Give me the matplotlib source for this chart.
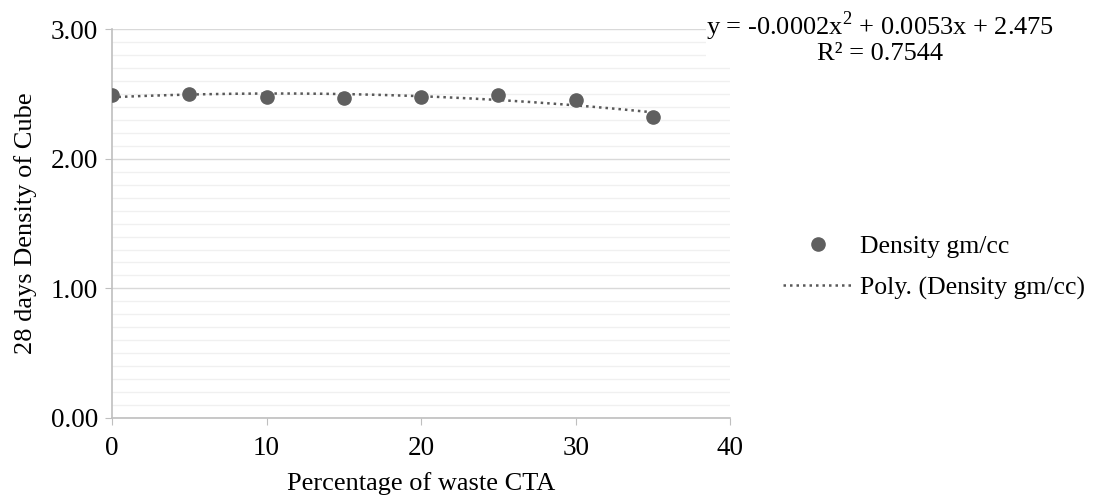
import numpy as np
import matplotlib.pyplot as plt
from matplotlib.ticker import MultipleLocator

plt.rcParams['font.family'] = ['Liberation Serif', 'DejaVu Serif']
plt.rcParams['mathtext.fontset'] = 'custom'
plt.rcParams['mathtext.rm'] = 'Liberation Serif'

# data
cta_pct = [0, 5, 10, 15, 20, 25, 30, 35]
density = [2.49, 2.50, 2.48, 2.47, 2.48, 2.49, 2.45, 2.32]
equation = "y = -0.0002x$^\\mathrm{2}$ + 0.0053x + 2.475\nR² = 0.7544"

def main():
    fs = 19.5
    fig = plt.figure(figsize=(11.02, 5.03), dpi=100)
    ax = fig.add_axes([0.1016, 0.169, 0.561, 0.773])

    # 2nd order trendline like Excel's "Poly." option
    coef = np.polyfit(cta_pct, density, 2)
    xs = np.linspace(min(cta_pct), max(cta_pct), 200)
    ax.plot(xs, np.polyval(coef, xs), color="#595959", linestyle=(0, (1, 1.6)),
            linewidth=1.8, label="Poly. (Density gm/cc)", zorder=3)
    ax.plot(cta_pct, density, "o", color="#5f5f5f", markersize=9.5,
            label="Density gm/cc", zorder=4)

    ax.set_xlim(0, 40)
    ax.set_ylim(0, 3)
    ax.xaxis.set_major_locator(MultipleLocator(10))
    ax.yaxis.set_major_locator(MultipleLocator(1))
    ax.yaxis.set_minor_locator(MultipleLocator(0.1))
    ax.set_yticklabels([f"{v:.2f}" for v in ax.get_yticks()])
    ax.grid(which="major", axis="y", color="#d9d9d9", linewidth=1)
    ax.grid(which="minor", axis="y", color="#f0f0f0", linewidth=1)
    ax.set_axisbelow(True)

    for s in ["top", "right"]:
        ax.spines[s].set_visible(False)
    for s in ["left", "bottom"]:
        ax.spines[s].set_color("#bfbfbf")
        ax.spines[s].set_linewidth(1.2)
    ax.tick_params(which="major", direction="out", length=5, color="#bfbfbf",
                   labelsize=fs)
    ax.tick_params(axis="x", pad=8)
    ax.tick_params(axis="y", pad=5)
    ax.tick_params(which="minor", length=0)

    ax.set_xlabel("Percentage of waste CTA", fontsize=19, labelpad=8)
    ax.set_ylabel("28 days Density of Cube", fontsize=19, labelpad=10)

    fig.text(0.7985, 0.982, equation, fontsize=19, ha="center", va="top",
             linespacing=1.0, bbox=dict(facecolor="white", edgecolor="none", pad=0))

    handles, labels = ax.get_legend_handles_labels()
    ax.legend(handles[::-1], labels[::-1], loc="center left",
              bbox_to_anchor=(0.7105, 0.468), bbox_transform=fig.transFigure,
              frameon=False, fontsize=18.5, borderpad=0, borderaxespad=0,
              handlelength=2.7, handletextpad=0.3, labelspacing=0.7)

    fig.savefig("out.png", dpi=100)

if __name__ == "__main__":
    main()
